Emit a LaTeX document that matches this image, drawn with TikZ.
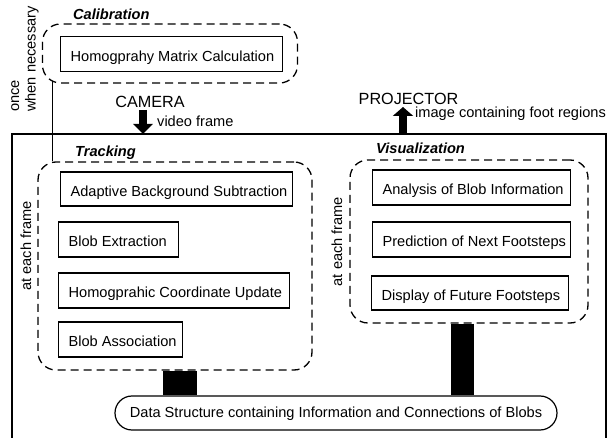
\documentclass[tikz,border=0pt]{standalone}
\usepackage{fontspec}
\setmainfont{Liberation Sans}
\usetikzlibrary{arrows.meta}

% fixed-width, left-aligned content of a process box (box width minus padding)
\newcommand{\boxtext}[2]{\makebox[\dimexpr#1pt-20pt\relax][l]{#2}}

\begin{document}
\begin{tikzpicture}[x=1pt,y=-1pt,
  every node/.style={font=\fontsize{14.6}{16.5}\selectfont},
  procbox/.style={draw, line width=1.2pt, inner xsep=10pt, inner ysep=0pt,
    minimum height=35pt, text height=15pt, text depth=0pt, anchor=west},
  group/.style={draw, line width=1.3pt, dash pattern=on 8pt off 5pt,
    rounded corners=18pt, inner sep=0pt},
  grouplabel/.style={font=\fontsize{14.6}{16.5}\selectfont\bfseries\itshape,
    anchor=base west, inner sep=0pt},
  device/.style={font=\fontsize{16.2}{18}\selectfont, anchor=base, inner sep=0pt},
  note/.style={anchor=base west, inner sep=0pt},
  sidenote/.style={rotate=90, inner sep=0pt},
  bigarrow/.style={line width=8pt, -{Triangle[width=19pt,length=10pt]}},
  databox/.style={draw, line width=1.2pt, rounded corners=17pt, inner sep=0pt,
    minimum width=442pt, minimum height=34pt, text height=10pt, text depth=0pt},
]
\useasboundingbox (0,0) rectangle (614,438);

% ---- calibration stage ----
\node[group, minimum width=255pt, minimum height=59pt] (calib) at (170,53.5) {};
\node[grouplabel] (calibLabel) at (73,20) {Calibration};
\node[procbox] (homography) at (60,54) {\boxtext{222}{Homogprahy Matrix Calculation}};
\node[sidenote, anchor=west, align=left] (once) at (25,112) {once\\when necessary};

% ---- devices ----
\node[device] (camera) at (150,108) {CAMERA};
\node[note] (videoframe) at (157,127) {video frame};
\node[device] (projector) at (408.5,104.5) {PROJECTOR};
\node[note] (imageout) at (415,117.5) {image containing foot regions};

% ---- system frame (open at the bottom) ----
\draw[line width=1.2pt] (12,445) -- (12,134) -- (606,134) -- (606,445);
\coordinate (frameTop) at (309,134);

% ---- tracking stage ----
\node[group, minimum width=274pt, minimum height=208pt] (track) at (175,266) {};
\node[grouplabel] (trackLabel) at (75,157) {Tracking};
\node[procbox, minimum height=34pt] (abs) at (60,189) {\boxtext{232}{Adaptive Background Subtraction}};
\node[procbox] (extract) at (58,239.5) {\boxtext{120}{Blob Extraction}};
\node[procbox] (hcu) at (58,290.5) {\boxtext{231}{Homogprahic Coordinate Update}};
\node[procbox] (assoc) at (58,339.5) {\boxtext{124}{Blob Association}};
\node[sidenote] (eachT) at (26,246) {at each frame};

% ---- visualization stage ----
\node[group, minimum width=238pt, minimum height=163pt] (vis) at (469,241.5) {};
\node[grouplabel] (visLabel) at (376,154) {Visualization};
\node[procbox] (analysis) at (372,187.5) {\boxtext{198}{Analysis of Blob Information}};
\node[procbox] (predict) at (372,239.5) {\boxtext{198}{Prediction of Next Footsteps}};
\node[procbox, minimum height=34pt] (display) at (371,293) {\boxtext{197}{Display of Future Footsteps}};
\node[sidenote] (eachV) at (337,241.5) {at each frame};

% ---- shared data structure ----
\node[databox] (data) at (336,413) {Data Structure containing Information and Connections of Blobs};

% ---- connections ----
\coordinate (linkTop) at ([xshift=11pt,yshift=3pt]calib.south west);
\draw[line width=0.9pt] (linkTop) -- (linkTop |- track.north);

\coordinate (camTail) at ([shift={(-7pt,-2pt)}]camera.base);
\draw[bigarrow] (camTail) -- (camTail |- frameTop);

\coordinate (projHead) at ([shift={(-5.5pt,-2.5pt)}]projector.base);
\draw[line width=8pt, -{Triangle[width=20pt,length=9pt]}] (projHead |- frameTop) -- (projHead);

\draw[line width=34pt] (180,0 |- track.south) -- (180,0 |- data.north);
\draw[line width=23pt] (462.5,0 |- vis.south) -- (462.5,0 |- data.north);
\end{tikzpicture}
\end{document}
